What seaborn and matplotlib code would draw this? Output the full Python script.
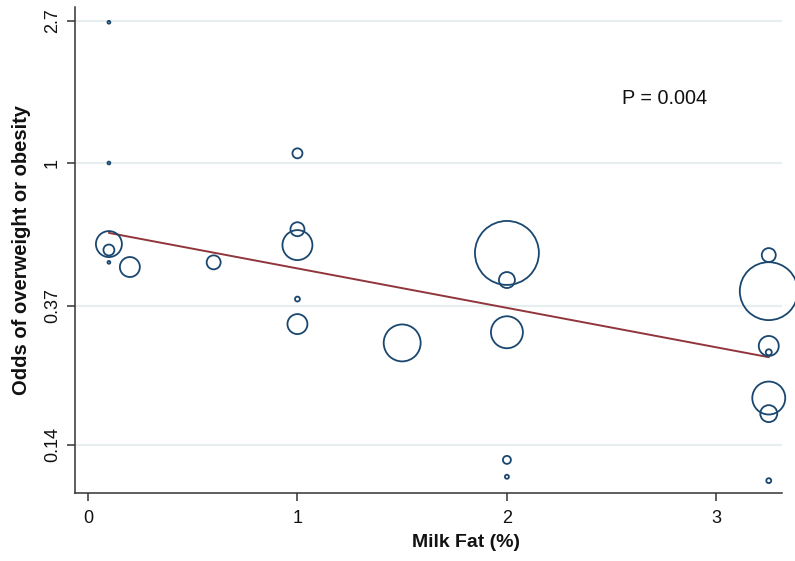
import numpy as np
import pandas as pd
import matplotlib
matplotlib.use("Agg")
import matplotlib.pyplot as plt
import matplotlib.transforms as mtransforms
import seaborn as sns

# ---- data ----
milk_fat = [0.1, 0.1, 0.1, 0.1, 0.1,
            0.2, 0.6,
            1.0, 1.0, 1.0, 1.0, 1.0,
            1.5,
            2.0, 2.0, 2.0, 2.0, 2.0,
            3.25, 3.25, 3.25, 3.25, 3.25, 3.25, 3.25]
odds = [2.67, 1.00, 0.568, 0.545, 0.50,
        0.484, 0.50,
        1.07, 0.63, 0.564, 0.387, 0.325,
        0.285,
        0.534, 0.442, 0.307, 0.126, 0.112,
        0.526, 0.409, 0.279, 0.267, 0.194, 0.174, 0.109]
# relative study weights (bubble area)
weight = [2, 2, 169, 30, 2,
          100, 49,
          25, 49, 225, 6, 100,
          342,
          1024, 64, 256, 16, 4,
          49, 841, 100, 9, 272, 72, 6]
fit_x = [0.1, 3.25]
fit_odds = [0.614, 0.258]
y_ticks = [0.14, 0.37, 1, 2.7]
y_tick_labels = ["0.14", "0.37", "1", "2.7"]
x_ticks = [0, 1, 2, 3]

df = pd.DataFrame({"fat": milk_fat, "odds": odds, "w": weight})
fit = pd.DataFrame({"fat": fit_x, "odds": fit_odds})

sns.set_theme(style="white")
plt.rcParams['font.family'] = ['Liberation Sans', 'DejaVu Sans']

navy = "#1a476f"
maroon = "#90353b"
grid_c = "#e6eeef"

fig = plt.figure(figsize=(7.95, 5.61), dpi=100)
ax = fig.add_axes([0.0943, 0.1212, 0.8893, 0.8663])

ax.set_yscale("log")
for t in y_ticks:
    ax.axhline(t, color=grid_c, lw=1.6, zorder=0)

wmax = max(weight)
smax = 2.07 * wmax
sns.scatterplot(data=df, x="fat", y="odds", size="w", sizes=(0, smax),
                size_norm=(0, wmax), legend=False, ax=ax,
                facecolor="none", edgecolor=navy, linewidth=1.3, zorder=3,
                clip_on=False)
sns.lineplot(data=fit, x="fat", y="odds", color=maroon, lw=1.4, ax=ax, zorder=2)

ax.set_xlim(-0.062, 3.313)
ax.set_ylim(0.1, 2.97)
ax.set_yticks(y_ticks)
ax.set_yticklabels(y_tick_labels, rotation=90, va="center")
ax.yaxis.set_minor_locator(matplotlib.ticker.NullLocator())
ax.set_xticks(x_ticks)
ax.set_xticklabels([str(v) for v in x_ticks])

ax.tick_params(axis="both", direction="out", length=6, width=1.1,
               color="#333333", labelsize=13, labelcolor="#111111", pad=4,
               left=True, bottom=True)
ax.tick_params(axis="x", pad=6)
for s in ["top", "right"]:
    ax.spines[s].set_visible(False)
for s in ["left", "bottom"]:
    ax.spines[s].set_color("#333333")
    ax.spines[s].set_linewidth(1.1)

ax.set_xlabel("Milk Fat (%)", fontsize=14, fontweight="bold", color="#111111")
ax.set_ylabel("Odds of overweight or obesity", fontsize=14.5, fontweight="bold", color="#111111")
ax.xaxis.set_label_coords((466 - 75) / 707, -(534 - 493) / 486)
ax.yaxis.set_label_coords(-(75 - 31) / 707, 0.5)

pix = mtransforms.Affine2D().scale(1, -1).translate(0, 561)
ax.text(665, 98, "P = 0.004", transform=pix, fontsize=14.3, ha="center",
        va="center", color="#111111")

fig.savefig("out.png", dpi=100)
